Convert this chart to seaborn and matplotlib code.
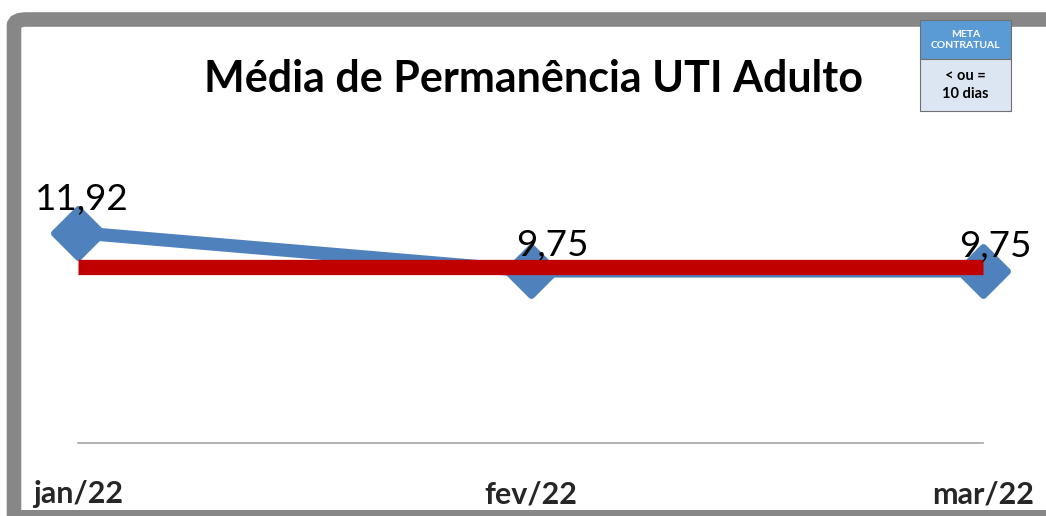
import matplotlib
matplotlib.use("Agg")
import matplotlib.pyplot as plt
import seaborn as sns
import pandas as pd
from matplotlib.patches import FancyBboxPatch, Rectangle
from matplotlib.markers import MarkerStyle

# data
months = ["jan/22", "fev/22", "mar/22"]
media = [11.92, 9.75, 9.75]
meta = [10, 10, 10]
labels = ["11,92", "9,75", "9,75"]
title = "Média de Permanência UTI Adulto"

sns.set_theme(style="white")
plt.rcParams['font.family'] = ['Lato', 'DejaVu Sans']

W, H = 1046, 516
fig = plt.figure(figsize=(W / 100, H / 100), dpi=100)
fig.patch.set_facecolor("white")

def px(x0, y0, x1, y1):
    return [x0 / W, 1 - y1 / H, (x1 - x0) / W, (y1 - y0) / H]

ax = fig.add_axes(px(78, 196, 983, 443))
df = pd.DataFrame({"mes": months, "media": media, "meta": meta})
df["x"] = range(len(months))

sns.lineplot(data=df, x="x", y="media", ax=ax, color="#4F81BD", linewidth=9.5,
             marker=MarkerStyle("D", joinstyle="round"), markersize=24,
             markeredgewidth=5, markeredgecolor="#4F81BD",
             markerfacecolor="#4F81BD", zorder=3,
             solid_joinstyle="round")
sns.lineplot(data=df, x="x", y="meta", ax=ax, color="#C00000", linewidth=11,
             zorder=4, solid_capstyle="butt")
for ln in ax.lines:
    ln.set_clip_on(False)

offsets = [(4, 33), (22, 25), (12, 24)]
for i, (v, lab) in enumerate(zip(media, labels)):
    ax.annotate(lab, (i, v), xytext=(offsets[i][0] * 0.72, offsets[i][1] * 0.72),
                textcoords="offset points", ha="center", va="center",
                fontsize=26.5, color="black", zorder=5)

ax.set_xlim(0, 2)
ax.set_ylim(0, 14)
ax.set_xticks(range(len(months)))
ax.set_xticklabels(months, fontsize=22, fontweight="bold")
ax.tick_params(axis="x", length=0, pad=27)
ax.set_yticks([])
ax.set_xlabel("")
ax.set_ylabel("")
for s in ["top", "right", "left"]:
    ax.spines[s].set_visible(False)
ax.spines["bottom"].set_color("#A6A6A6")
ax.spines["bottom"].set_linewidth(1.2)
ax.patch.set_alpha(0)

fig.text(533 / W, 1 - 79 / H, title, ha="center", va="center",
         fontsize=31, fontweight="bold", color="black")

# border frame (top and left, rounded corner), bottom strip
frame = FancyBboxPatch((14 / W, 1 - 700 / H), (1100 - 14) / W, (700 - 19.5) / H,
                       boxstyle="round,pad=0,rounding_size=0.012",
                       transform=fig.transFigure, facecolor="none",
                       edgecolor="#878787", linewidth=10.5, zorder=0)
fig.patches.append(frame)
fig.patches.append(Rectangle((7 / W, 0), (W - 7) / W, 6 / H, transform=fig.transFigure,
                             facecolor="#878787", edgecolor="none", zorder=0))

# meta box
fig.patches.append(Rectangle((920 / W, 1 - 59 / H), 91 / W, 39 / H, transform=fig.transFigure,
                             facecolor="#5B9BD5", edgecolor="#6F6F6F", linewidth=0.8, zorder=5))
fig.patches.append(Rectangle((920 / W, 1 - 111 / H), 91 / W, 52 / H, transform=fig.transFigure,
                             facecolor="#DCE6F2", edgecolor="#6F6F6F", linewidth=0.8, zorder=5))
fig.text(965.5 / W, 1 - 40 / H, "META\nCONTRATUAL", ha="center", va="center",
         fontsize=7.5, fontweight="bold", color="white", linespacing=1.35, zorder=6)
fig.text(965.5 / W, 1 - 85 / H, "< ou =\n10 dias", ha="center", va="center",
         fontsize=10.5, fontweight="bold", color="black", linespacing=1.3, zorder=6)

fig.savefig("out.png", dpi=100, facecolor="white")
